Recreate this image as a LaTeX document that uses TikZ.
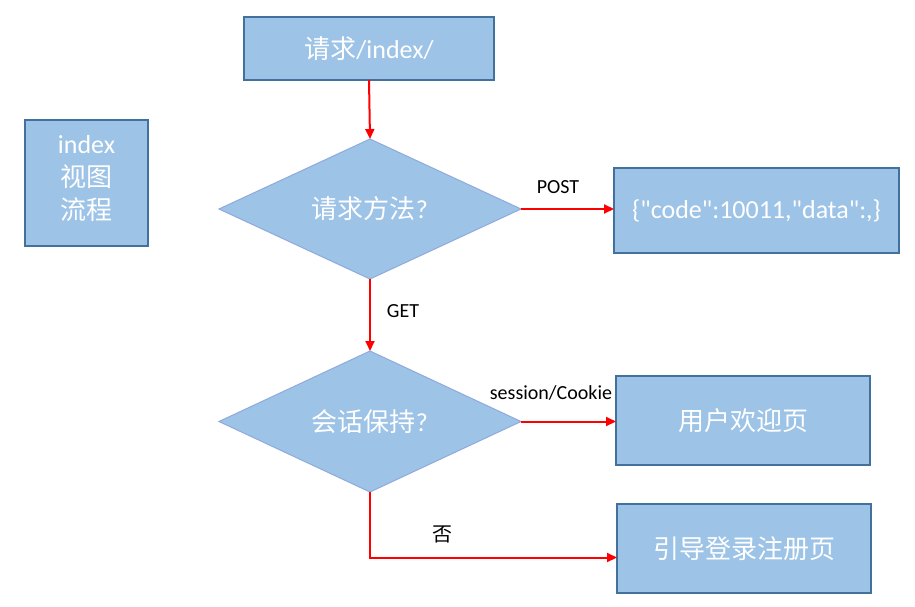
\documentclass[tikz,border=0pt]{standalone}
\usepackage{fontspec}
\setmainfont{Carlito}[Ligatures=TeXOff]
\newfontfamily\cjk{Noto Sans CJK SC}
\usetikzlibrary{shapes.geometric,arrows.meta}
\definecolor{boxfill}{HTML}{9DC3E6}
\definecolor{boxline}{HTML}{41719C}
\definecolor{dline}{HTML}{8FAADC}
\begin{document}
\begin{tikzpicture}[x=1pt,y=-1pt,
 box/.style={draw=boxline, line width=2pt, fill=boxfill, text=white, font=\fontsize{26}{33}\selectfont, inner sep=0pt, outer sep=0pt, align=center},
 dec/.style={diamond, draw=dline, line width=1pt, fill=boxfill, text=white, font=\fontsize{26}{30}\selectfont, minimum width=302pt, minimum height=140pt, aspect=2.157, inner sep=0pt, outer sep=0pt},
 arr/.style={draw=red, line width=2pt, -{Triangle[length=10pt,width=9pt]}},
 lbl/.style={font=\fontsize{20}{24}\selectfont, text=black, inner sep=0pt}
]
\useasboundingbox (0,0) rectangle (915,607);
\node[box, minimum width=250pt, minimum height=63pt] (top) at (369,48.5) {{\cjk 请求}/index/};
\node[box, minimum width=123pt, minimum height=126pt] (side) at (86.5,183) {};
\node[text=white, font=\fontsize{26}{33}\selectfont, align=center, inner sep=0pt] (sidetext) at ([yshift=5pt]side.center) {index\\{\cjk 视图}\\{\cjk 流程}};
\node[dec] (d1) at (370,209) {{\cjk 请求方法}?};
\node[box, minimum width=285pt, minimum height=85pt] (post) at (756.5,210.5) {\{"code":10011,"data":,\}};
\node[dec, minimum height=141pt] (d2) at (370,421.5) {{\cjk 会话保持}?};
\node[box, minimum width=254pt, minimum height=89pt] (welcome) at (743,420.5) {\cjk 用户欢迎页};
\node[box, minimum width=254pt, minimum height=89pt] (reg) at (744,548.5) {\cjk 引导登录注册页};
\draw[arr] (top.south) -- (d1.north);
\draw[arr] (d1.south) -- (d2.north);
\draw[arr] (d1.east) -- (d1.east -| post.west);
\draw[arr] (d2.east) -- (d2.east -| welcome.west);
\draw[arr] (d2.south) |- ([yshift=-9pt]reg.west);
\node[lbl] (lpost) at (558,187) {POST};
\node[lbl] (lget) at (403,311) {GET};
\node[lbl] (lsess) at (551,393) {session/Cookie};
\node[lbl, font=\fontsize{20}{24}\cjk] (lno) at (442,534) {否};
\end{tikzpicture}
\end{document}
